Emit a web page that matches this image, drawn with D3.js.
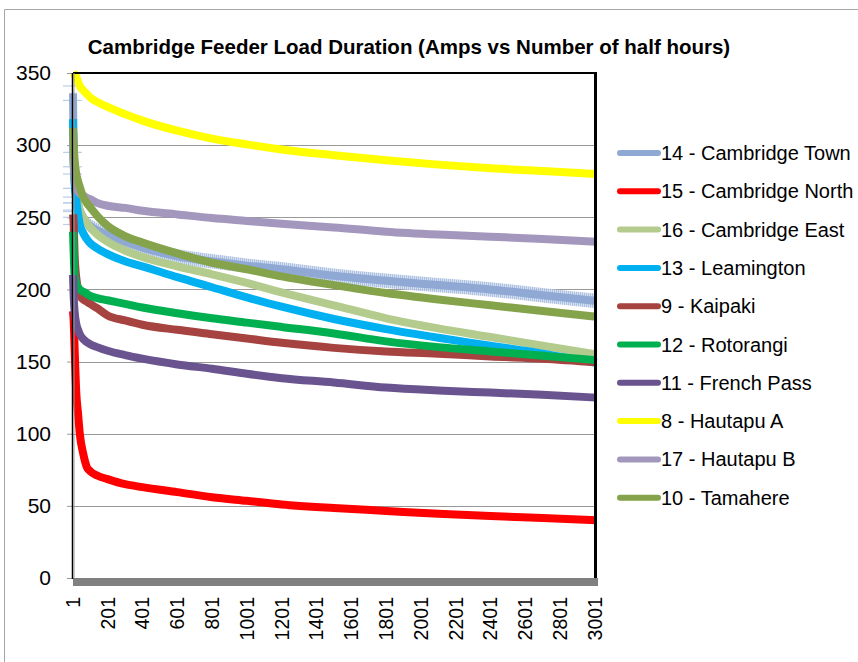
<!DOCTYPE html>
<html>
<head>
<meta charset="utf-8">
<script src="https://cdn.jsdelivr.net/npm/d3@7"></script>
<style>
  body { margin: 0; background: #fff; }
  svg { display: block; font-family: Arial, "Liberation Sans", sans-serif; }
</style>
</head>
<body>
<svg id="chart" width="858" height="662"></svg>
<script>
var halfHours = [1, 5, 10, 20, 30, 40, 60, 80, 100, 140, 200, 300, 400, 600, 800, 1000, 1200, 1500, 1800, 2100, 2400, 2700, 3010];

var cambridgeTown  = [336, 290, 275, 265, 259, 255, 250, 246, 244, 241, 238, 233, 229, 223, 219.5, 216.5, 214, 209.5, 206, 203, 200, 196, 192];
var cambridgeNorth = [185, 178, 160, 128, 114, 100, 86, 77, 74, 71, 68.5, 65, 63, 59.5, 56, 53.5, 51, 48.5, 46.5, 44.5, 43, 41.5, 40];
var cambridgeEast  = [300, 285, 275, 265, 259, 255, 250, 246, 243, 238, 233, 227, 222.5, 216, 210.5, 204.5, 198, 189, 180, 173, 167, 161, 155];
var leamington     = [318, 290, 275, 262, 252, 245, 239, 235, 232, 228.5, 224.5, 219.5, 216, 208.5, 201.5, 194.5, 188, 179.5, 172.5, 166.5, 161, 155.5, 149];
var kaipaki        = [252, 245, 225, 208, 200, 196, 193, 191.5, 190, 187, 182, 178.5, 175.5, 172, 169, 166, 163, 159.5, 157, 155.5, 153.5, 152, 149.5];
var rotorangi      = [240, 225, 210, 204, 201.5, 200, 198.5, 197, 195.5, 194, 192.5, 190, 187.5, 183.5, 180, 177, 174, 169.5, 164, 160, 157, 154, 151];
var frenchPass     = [210, 195, 185, 176, 172, 169, 165.5, 163.5, 162, 160, 157.5, 154.5, 152, 148, 145, 141.5, 138.5, 135.5, 132, 130, 128.5, 127, 125];
var hautapuA       = [350, 349.5, 349, 347, 344, 341, 338, 335.5, 333, 330, 326.5, 321.5, 317, 310, 304.5, 300.5, 297, 293, 289.5, 286.5, 284, 282, 280];
var hautapuB       = [305, 290, 278, 270, 268, 266.5, 265, 263.5, 262.5, 260, 258, 256.5, 254.5, 252, 249.5, 247.5, 245.5, 243, 240, 238, 236.5, 235, 233];
var tamahere       = [312, 300, 290, 280, 275, 271, 264, 260, 257, 251, 244, 237, 232.5, 225, 218.5, 214, 209, 203, 197.5, 193, 189, 185, 181];

// error bar size on Cambridge Town (amps)
var townError = 5;

var seriesNames = ["14 - Cambridge Town", "15 - Cambridge North", "16 - Cambridge East", "13 - Leamington",
    "9 - Kaipaki", "12 - Rotorangi", "11 - French Pass", "8 - Hautapu A", "17 - Hautapu B", "10 - Tamahere"];
var seriesValues = [cambridgeTown, cambridgeNorth, cambridgeEast, leamington, kaipaki, rotorangi,
    frenchPass, hautapuA, hautapuB, tamahere];
var seriesColors = ["#8FA9D4", "#FF0000", "#B3CB8D", "#00B0F0", "#A6423F", "#00B050",
    "#6A5490", "#FFFF00", "#A497BD", "#84A34A"];

var yTicks = [0, 50, 100, 150, 200, 250, 300, 350];
var xTickLabels = [1, 201, 401, 601, 801, 1001, 1201, 1401, 1601, 1801, 2001, 2201, 2401, 2601, 2801, 3001];

var svg = d3.select("#chart");
var plot = { left: 73, right: 597, top: 73, bottom: 578 };

var x = d3.scaleLinear().domain([1, 3012]).range([plot.left, plot.right]);
var y = d3.scaleLinear().domain([0, 350]).range([plot.bottom, plot.top]);

// outer chart border (top + left visible)
svg.append("path")
    .attr("d", "M4.5,662 L4.5,9.5 L858,9.5")
    .attr("fill", "none")
    .attr("stroke", "#A6A6A6")
    .attr("stroke-width", 1);

// title
svg.append("text")
    .attr("x", 409)
    .attr("y", 54)
    .attr("text-anchor", "middle")
    .attr("font-weight", "bold")
    .attr("font-size", 20.5)
    .text("Cambridge Feeder Load Duration (Amps vs Number of half hours)");

// gridlines
svg.append("g")
    .selectAll("line")
    .data(yTicks.filter(function (d) { return d > 0 && d < 350; }))
    .enter().append("line")
    .attr("x1", plot.left).attr("x2", plot.right)
    .attr("y1", function (d) { return Math.round(y(d)) + 0.5; })
    .attr("y2", function (d) { return Math.round(y(d)) + 0.5; })
    .attr("stroke", "#999")
    .attr("stroke-width", 1);

// y axis
var yAxis = d3.axisLeft(y).tickValues(yTicks).tickSize(6).tickPadding(16);
var yg = svg.append("g")
    .attr("transform", "translate(" + plot.left + ",0)")
    .call(yAxis);
yg.select(".domain").remove();
yg.selectAll(".tick line").attr("stroke", "#999");
yg.selectAll(".tick text")
    .attr("font-size", 21)
    .attr("font-family", "Arial, 'Liberation Sans', sans-serif")
    .attr("fill", "#000");

// x labels (rotated)
svg.append("g")
    .selectAll("text")
    .data(xTickLabels)
    .enter().append("text")
    .attr("transform", function (d) { return "translate(" + x(d) + ",597) rotate(-90)"; })
    .attr("text-anchor", "end")
    .attr("dy", "0.35em")
    .attr("font-size", 19.5)
    .text(function (d) { return d; });

// Cambridge Town error band (dense error bars)
var defs = svg.append("defs");
var pat = defs.append("pattern")
    .attr("id", "hatch")
    .attr("patternUnits", "userSpaceOnUse")
    .attr("width", 2).attr("height", 4);
pat.append("rect").attr("width", 2).attr("height", 4).attr("fill", "#D3DEF0");
pat.append("rect").attr("width", 1).attr("height", 4).attr("fill", "#A3B9DE");

var band = d3.area()
    .x(function (d, i) { return x(halfHours[i]); })
    .y0(function (d) { return y(d - townError); })
    .y1(function (d) { return y(d + townError); })
    .curve(d3.curveMonotoneX);

var line = d3.line()
    .x(function (d, i) { return x(halfHours[i]); })
    .y(function (d) { return y(d); })
    .curve(d3.curveMonotoneX);

var series = svg.append("g");

seriesValues.forEach(function (vals, k) {
    if (k === 0) {
        series.append("path")
            .datum(vals)
            .attr("d", band)
            .attr("fill", "url(#hatch)")
            .attr("opacity", 0.9);
        // error bar caps for the first steep points
        var caps = [];
        vals.forEach(function (v, i) {
            if (halfHours[i] <= 60) {
                caps.push(v - townError);
                caps.push(v + townError);
            }
        });
        series.append("g")
            .selectAll("line")
            .data(caps)
            .enter().append("line")
            .attr("x1", x(1) - 10).attr("x2", x(1) + 9)
            .attr("y1", function (d) { return y(d); })
            .attr("y2", function (d) { return y(d); })
            .attr("stroke", "#BCCDE8")
            .attr("stroke-width", 1.2);
    }
    series.append("path")
        .datum(vals)
        .attr("d", line)
        .attr("fill", "none")
        .attr("stroke", seriesColors[k])
        .attr("stroke-width", 8)
        .attr("stroke-linejoin", "round");
});

// plot frame: top, right, floor, left axis
svg.append("line")
    .attr("x1", plot.left).attr("x2", plot.right)
    .attr("y1", plot.top).attr("y2", plot.top)
    .attr("stroke", "#000").attr("stroke-width", 2);
svg.append("line")
    .attr("x1", plot.right - 1.5).attr("x2", plot.right - 1.5)
    .attr("y1", plot.top - 1).attr("y2", plot.bottom + 1)
    .attr("stroke", "#000").attr("stroke-width", 3);
svg.append("rect")
    .attr("x", plot.left).attr("y", plot.bottom)
    .attr("width", plot.right - plot.left + 1).attr("height", 8)
    .attr("fill", "#808080");
svg.append("line")
    .attr("x1", plot.left - 0.5).attr("x2", plot.left - 0.5)
    .attr("y1", plot.top).attr("y2", plot.bottom + 1)
    .attr("stroke", "#000").attr("stroke-width", 1.5);
svg.append("line")
    .attr("x1", plot.left + 1).attr("x2", plot.left + 1)
    .attr("y1", plot.top).attr("y2", plot.bottom)
    .attr("stroke", "#999").attr("stroke-width", 1);

// legend
var legend = svg.append("g")
    .selectAll("g")
    .data(seriesNames)
    .enter().append("g")
    .attr("transform", function (d, i) { return "translate(618," + (153 + i * 38.3) + ")"; });

legend.append("line")
    .attr("x1", 2).attr("x2", 40)
    .attr("stroke", function (d, i) { return seriesColors[i]; })
    .attr("stroke-width", 6)
    .attr("stroke-linecap", "round");

legend.append("text")
    .attr("x", 43)
    .attr("dy", "0.35em")
    .attr("font-size", 20)
    .text(function (d) { return d; });
</script>
</body>
</html>
